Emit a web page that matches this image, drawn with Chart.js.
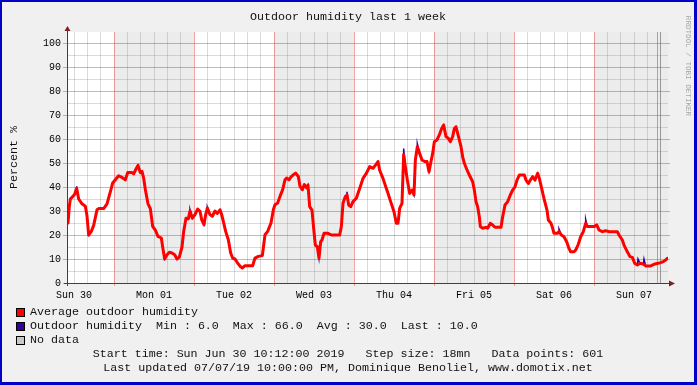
<!DOCTYPE html>
<html><head><meta charset="utf-8">
<script src="https://cdn.jsdelivr.net/npm/chart.js@4"></script>
<style>html,body{margin:0;padding:0;background:#f0f0f0;}canvas{display:block;}</style>
</head><body>
<canvas id="c" width="697" height="385"></canvas>
<script>
// time axis: hours since Sun Jun 30 10:12:00 2019
const avgHours = [0,0.4,0.7,1.4,2.0,2.6,3.2,4.2,5.2,5.7,6.2,7.0,7.7,8.7,9.2,10.7,11.7,12.7,13.4,14.2,15.2,16.2,17.2,17.9,19.2,19.7,20.4,21.0,21.7,22.2,22.7,23.2,24.0,24.7,25.4,26.2,27.0,28.0,28.4,29.0,29.7,30.4,31.2,32.0,32.7,33.4,34.2,34.7,35.4,
36.1,36.6,37.3,38.1,38.9,39.6,40.1,40.8,41.3,41.8,42.6,43.3,44.1,44.8,45.6,46.1,46.6,47.3,48.1,48.8,49.4,50.1,50.9,51.6,52.3,53.1,54.1,55.4,56.1,57.1,58.3,59.1,59.9,60.9,61.6,62.1,62.9,63.6,64.4,65.1,65.6,66.3,66.9,67.6,68.3,69.1,69.6,70.3,70.9,71.6,
72.0,72.5,73.2,73.7,74.2,74.8,75.3,75.8,76.2,76.8,78.0,79.0,81.5,82.0,82.5,83.2,83.7,84.2,84.8,85.5,86.5,87.5,88.5,89.5,90.5,91.5,92.3,93.0,93.5,94.5,95.5,96.0,96.8,97.8,98.5,99.0,99.5,100.2,100.7,101.2,101.8,102.5,103.2,103.8,104.2,104.8,105.5,106.2,107.0,107.7,108.3,
108.9,109.4,109.9,110.7,111.4,112.1,112.7,113.4,114.1,114.7,115.4,115.9,116.4,116.9,117.4,117.9,118.4,118.9,119.7,120.4,121.4,121.9,122.4,122.9,123.4,123.7,124.4,125.4,125.9,126.7,127.4,128.1,129.9,130.4,131.1,131.9,132.7,133.4,134.1,134.7,135.4,136.1,136.9,137.4,138.1,138.7,139.4,140.1,140.9,141.4,142.1,142.9,143.7,144.1,144.9,145.4,
145.8,146.8,147.3,148.0,148.8,149.6,150.3,150.8,151.8,152.3,153.0,153.8,154.6,155.3,155.8,157.8,158.6,159.3,160.3,161.3,162.3,164.8,165.3,166.3,166.8,167.8,168.6,169.3,170.0,170.8,171.6,172.6,173.3,174.8,175.3,175.8,177.0,177.8,178.6,179.3,179.8];
const avgValues = [25,32,35,36,37,39.5,35,33,32,28,20,21.5,24,30.5,31,31,33,38,41.7,43,44.7,44,43,46,46,45.5,47.5,49,46,46.5,43.7,39,33,31,23.6,22,19.4,18.75,15,10,11.8,12.8,12.5,11.8,10,10.8,15,21.5,27,
26.7,30,27,28.5,30.8,29.9,26.4,24.3,28.5,31.25,28.5,27.8,30,29,30.5,28.5,25.7,21.5,18,12.5,10.4,10,8.3,7,6.25,7.2,7.2,7.2,10.4,11.1,11.4,20.1,21.5,25,30.5,32.6,33.3,36.1,38.9,43,43.75,43,44.2,45.1,45.8,44.4,40.3,38.9,41,39.6,
40.8,31.8,30.4,22.8,15.8,15.1,10.3,17.2,17.9,20.7,20.7,20,20,23.5,33.2,36,36.7,32.5,31.8,33.9,35.3,39.4,43.6,45.7,48.5,47.8,49.2,50.6,47,43.6,39.4,37.4,33.9,29.7,24.9,24.9,31.1,33.2,53.5,48.5,42.9,37.4,38.75,36.7,51.25,56.8,54,51.25,50.6,50.6,46.4,
50.6,54,58.9,59.6,61.7,64.4,65.8,61,60.3,58.9,61,64.4,65.1,62.4,59.6,56.8,52.6,49.9,47.1,45,42.2,38.75,33.9,31.8,27.6,23.5,22.8,23.2,22.8,24.9,24.2,23.2,23.2,27.6,32.5,33.9,36.7,38.75,40.1,42.9,45,45,45,42.9,41.5,42.9,44.3,42.9,45.7,43.6,39.4,34.6,30.4,26.25,24.9,22.8,
20.7,20.7,21.4,20,19.3,17.2,14.4,13,13,13.75,15.8,19.3,21.4,24.9,23.5,23.5,24.2,22.1,21.4,21.8,21.4,21.4,20,17.9,15.8,13,11,10.7,8.2,7.5,8.2,7.9,7.1,7.1,7.5,7.8,8.2,8.5,8.9,9.6,10.3];
// raw samples that poke out of the averaged line
const rawSpikeHours = [2.6,36.6,41.8,83.7,100.7,104.8,147.3,155.3,171.0,172.8];
const rawSpikeValues = [40.3,30.6,31.6,38,56,58,22.5,26.5,10,10];
const dayLabels = ['Sun 30','Mon 01','Tue 02','Wed 03','Thu 04','Fri 05','Sat 06','Sun 07'];
const firstNoonHour = 1.8;      // Sun 30 12:00
const firstMidnightHour = 13.8; // Mon 01 00:00
const shadedDayIdx = [0,2,4,6]; // days after first midnight that are shaded
const vruleHours = [176.7,177.6];
const hourSpan = 180;
const yTop = 104.6;
const yTickMax = 100, yMinorStep = 5, yMajorStep = 10;
const titleText = 'Outdoor humidity last 1 week';
const legendTexts = ['Average outdoor humidity','Outdoor humidity  Min : 6.0  Max : 66.0  Avg : 30.0  Last : 10.0','No data'];
const legendColors = ['#ff0000','#330099','#c8c8c8'];
const footerTexts = ['Start time: Sun Jun 30 10:12:00 2019   Step size: 18mn   Data points: 601','Last updated 07/07/19 10:00:00 PM, Dominique Benoliel, www.domotix.net'];
const yTitle = 'Percent %';
const watermark = 'RRDTOOL / TOBI OETIKER';

const FONT = '"Liberation Mono", monospace';
const MAJOR = 'rgba(222,40,40,0.42)';
const MINOR = 'rgba(140,140,140,0.32)';

const avgPoints = avgHours.map((h,i)=>({x:h,y:avgValues[i]}));
const rawPoints = avgPoints.concat(rawSpikeHours.map((h,i)=>({x:h,y:rawSpikeValues[i]}))).sort((a,b)=>a.x-b.x);

const majorEvery = yMajorStep / yMinorStep;

const rrdPlugin = {
  id:'rrd',
  beforeDraw(chart){
    const c = chart.ctx, a = chart.chartArea, xs = chart.scales.x;
    c.save();
    c.fillStyle='#f0f0f0'; c.fillRect(0,0,chart.width,chart.height);
    c.fillStyle='#ffffff'; c.fillRect(a.left,a.top,a.right-a.left,a.bottom-a.top);
    c.fillStyle='#ececec';
    shadedDayIdx.forEach(d=>{
      const h0 = firstMidnightHour + 24*d, h1 = Math.min(h0+24, hourSpan);
      const x0 = Math.round(xs.getPixelForValue(h0)), x1 = Math.round(xs.getPixelForValue(h1));
      c.fillRect(x0,a.top,x1-x0,a.bottom-a.top);
    });
    c.restore();
  },
  beforeDatasetsDraw(chart){
    const c = chart.ctx, a = chart.chartArea, xs = chart.scales.x, ys = chart.scales.y;
    c.save();
    // horizontal grid from the y scale's ticks
    ys.ticks.forEach((t,i)=>{
      const y = Math.round(ys.getPixelForValue(t.value));
      const major = i % majorEvery === 0;
      c.fillStyle = major ? MAJOR : MINOR;
      if (major) c.fillRect(a.left-5, y, a.right-a.left+7, 1);
      else c.fillRect(a.left, y, a.right-a.left, 1);
    });
    c.fillStyle='rgba(110,110,110,0.55)';
    vruleHours.forEach(h=>{ c.fillRect(Math.round(xs.getPixelForValue(h)), a.top, 1, a.bottom-a.top); });
    c.restore();
  },
  afterDatasetsDraw(chart){
    const c = chart.ctx, a = chart.chartArea;
    c.save();
    c.fillStyle='#404040';
    c.fillRect(a.left-1, a.top-1, 1, a.bottom-a.top+4);
    c.fillRect(a.left-4, a.bottom, a.right-a.left+8, 1);
    c.fillStyle='#801f1f';
    c.beginPath(); c.moveTo(a.left-0.5,a.top-6); c.lineTo(a.left-3.5,a.top-1); c.lineTo(a.left+2.5,a.top-1); c.closePath(); c.fill();
    c.beginPath(); c.moveTo(a.right+7,a.bottom+0.5); c.lineTo(a.right+1,a.bottom-2.5); c.lineTo(a.right+1,a.bottom+3.5); c.closePath(); c.fill();
    c.restore();
  },
  afterDraw(chart){
    const c = chart.ctx;
    c.save();
    c.fillStyle='#111';
    c.font = '11.67px '+FONT;
    c.textAlign='center'; c.textBaseline='middle';
    c.fillText(titleText, 348, 17);
    c.save(); c.translate(14,157.5); c.rotate(-Math.PI/2); c.fillText(yTitle,0,0); c.restore();
    c.textAlign='left';
    legendTexts.forEach((t,i)=>{
      const cy = 312 + 14*i;
      c.fillStyle=legendColors[i]; c.fillRect(16,cy-4,8,8);
      c.strokeStyle='#000'; c.lineWidth=1; c.strokeRect(16.5,cy-3.5,8,8);
      c.fillStyle='#111'; c.fillText(t,30,cy);
    });
    c.textAlign='center';
    footerTexts.forEach((t,i)=>{ c.fillText(t,348,353.5+14.5*i); });
    c.fillStyle='#a8a8a8'; c.font='7.6px '+FONT;
    c.save(); c.translate(688,66); c.rotate(Math.PI/2); c.fillText(watermark,0,0); c.restore();
    c.fillStyle='#0000c8';
    c.fillRect(0,0,697,2); c.fillRect(0,0,2,385); c.fillRect(694,0,3,385); c.fillRect(0,382,697,3);
    c.restore();
  }
};

new Chart(document.getElementById('c'), {
  type:'line',
  data:{datasets:[
    {label:legendTexts[0], data:avgPoints, borderColor:legendColors[0], borderWidth:3, pointRadius:0, tension:0, borderJoinStyle:'round', borderCapStyle:'round', fill:false},
    {label:'Outdoor humidity', data:rawPoints, borderColor:legendColors[1], borderWidth:1.5, pointRadius:0, tension:0, fill:false}
  ]},
  options:{
    responsive:false, animation:false, devicePixelRatio:1,
    layout:{padding:{top:32,bottom:82,left:0,right:29}},
    plugins:{legend:{display:false}, title:{display:false}, tooltip:{enabled:false}},
    scales:{
      x:{
        type:'linear', min:0, max:hourSpan,
        afterFit:s=>{s.height=20;},
        afterBuildTicks:s=>{ const t=[]; for(let k=0; firstNoonHour+4*k<=hourSpan; k++) t.push({value:firstNoonHour+4*k}); s.ticks=t; },
        border:{display:false},
        grid:{color:ctx=>ctx.index%6===3?MAJOR:MINOR, lineWidth:1, tickLength:3, tickColor:ctx=>ctx.index%6===3?MAJOR:'rgba(0,0,0,0)'},
        ticks:{autoSkip:false, maxRotation:0, minRotation:0, padding:3, color:'#000', font:{family:FONT,size:10},
          callback:(v,i)=> i%6===0 ? dayLabels[i/6] : ''}
      },
      y:{
        min:0, max:yTop,
        afterFit:s=>{s.width=68;},
        afterBuildTicks:s=>{ const t=[]; for(let v=0; v<=yTickMax; v+=yMinorStep) t.push({value:v}); s.ticks=t; },
        border:{display:false},
        grid:{display:false, drawTicks:false},
        ticks:{autoSkip:false, padding:7, color:'#000', font:{family:FONT,size:10},
          callback:(v,i)=> i%majorEvery===0 ? String(v) : ''}
      }
    }
  },
  plugins:[rrdPlugin]
});
</script>
</body></html>
